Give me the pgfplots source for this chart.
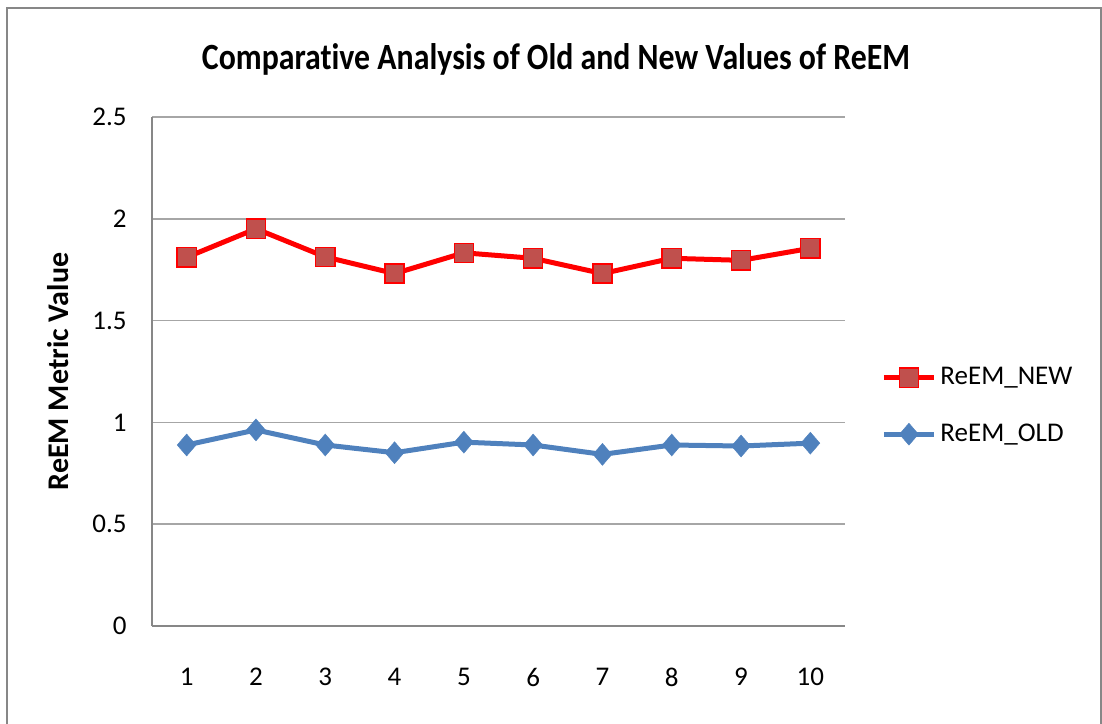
\documentclass[border=0pt]{standalone}
\usepackage{pgfplots}
\pgfplotsset{compat=1.18}
\usepackage{fontspec}
\setmainfont[Ligatures=NoCommon]{Carlito}
\newfontfamily\titlefont[FakeStretch=0.86, Ligatures=NoCommon]{Carlito}
\definecolor{newfill}{HTML}{C0504D}
\definecolor{oldblue}{HTML}{4F81BD}
\definecolor{gridgray}{HTML}{A6A6A6}
\definecolor{axgray}{HTML}{878787}
\begin{document}
\begin{tikzpicture}
\useasboundingbox (-76pt,-48.5pt) rectangle (475pt,313pt);
\draw[axgray, line width=1.2pt] (-72.5pt,-60pt) -- (-72.5pt,309pt) -- (474.5pt,309pt) -- (474.5pt,-60pt);
\node[anchor=base, inner sep=0pt, font=\titlefont\bfseries\fontsize{18.5}{22}\selectfont] at (202pt,278pt) {Comparative Analysis of Old and New Values of ReEM};
\begin{axis}[
  at={(0pt,0pt)}, anchor=south west,
  width=346.5pt, height=254.5pt, scale only axis,
  xmin=0.5, xmax=10.5, ymin=0, ymax=2.5,
  xtick={1,2,3,4,5,6,7,8,9,10},
  ytick={0,0.5,1,1.5,2,2.5},
  axis x line*=bottom, axis y line*=left,
  axis line style={draw=axgray, line width=0.8pt, -},
  major tick length=0pt,
  ymajorgrids, grid style={draw=gridgray, line width=0.8pt},
  /pgf/number format/assume math mode=true,
  ticklabel style={font=\fontsize{13.5}{16}\selectfont},
  yticklabel style={inner sep=0pt, anchor=east, xshift=-12.5pt},
  xticklabel style={inner sep=0pt, anchor=north, yshift=-21pt},
  ylabel={\bfseries ReEM Metric Value},
  ylabel style={font=\fontsize{15}{18}\selectfont, at={(axis description cs:-0.1356,0.5)}, anchor=center},
  clip=false,
  legend style={draw=none, fill=none, at={(1.052,0.4322)}, anchor=west, inner sep=0pt,
    font=\fontsize{13.5}{16}\selectfont, row sep=14pt,
    nodes={inner sep=2pt, anchor=west}},
  legend cell align=left,
  legend image code/.code={\draw[mark repeat=2,mark phase=2,#1] plot coordinates {(0pt,0pt) (12.5pt,0pt) (25pt,0pt)};},
]
\addplot[red, line width=2.5pt, mark=square*, mark size=4.8pt,
  mark options={fill=newfill, draw=red, line width=0.7pt}]
  coordinates {(1,1.811) (2,1.951) (3,1.813) (4,1.731) (5,1.833) (6,1.806) (7,1.731) (8,1.806) (9,1.796) (10,1.855)};
\addlegendentry{ReEM\_NEW}
\addplot[oldblue, line width=2.5pt, mark=diamond*, mark size=5.5pt,
  mark options={fill=oldblue, draw=oldblue, line width=0.2pt, xscale=1.15}]
  coordinates {(1,0.889) (2,0.963) (3,0.889) (4,0.851) (5,0.903) (6,0.889) (7,0.843) (8,0.889) (9,0.884) (10,0.898)};
\addlegendentry{ReEM\_OLD}
\end{axis}
\end{tikzpicture}
\end{document}
